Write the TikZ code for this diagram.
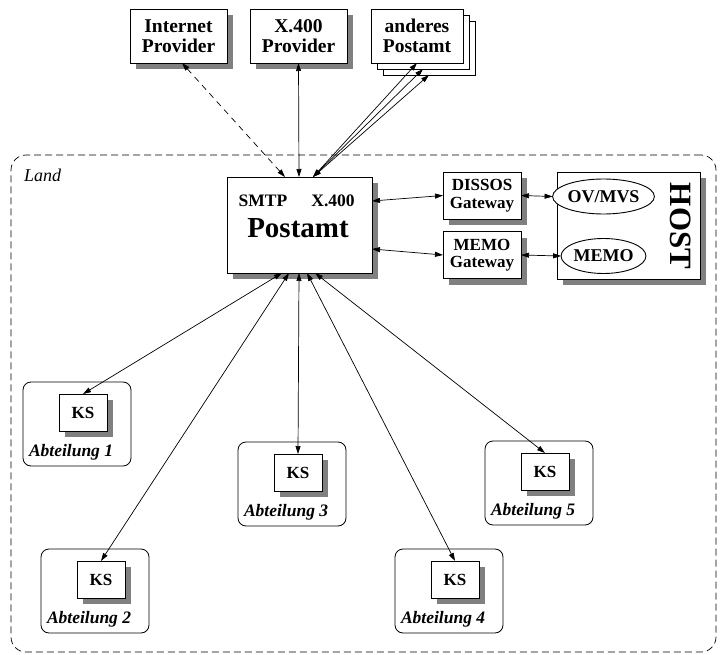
\documentclass[tikz,border=0pt]{standalone}
\usepackage{fontspec}
\setmainfont{Liberation Serif}
\usetikzlibrary{arrows.meta,shadows,shapes.geometric,calc}

\tikzset{
  every node/.style={inner sep=0pt, outer sep=0pt},
  shadowed/.style={drop shadow={shadow xshift=6pt, shadow yshift=-6pt, fill=black!50, opacity=1}},
  topbox/.style={draw, fill=white, line width=0.9pt, align=center,
    minimum width=97pt, minimum height=54pt,
    font=\fontsize{19.5}{19.5}\selectfont\bfseries},
  stackbox/.style={draw, fill=white, line width=0.9pt, align=center,
    minimum width=92pt, minimum height=54pt,
    font=\fontsize{19.5}{19.5}\selectfont\bfseries},
  gwbox/.style={draw, fill=white, line width=0.9pt, align=center, shadowed,
    minimum width=78pt, minimum height=47pt,
    font=\fontsize{17}{17.5}\selectfont\bfseries},
  app/.style={ellipse, draw, fill=white, line width=0.9pt,
    minimum width=83pt, minimum height=35pt,
    font=\fontsize{18}{18}\selectfont\bfseries},
  deptbox/.style={draw, rounded corners=8pt, line width=0.8pt,
    minimum width=108pt, minimum height=84pt},
  ksbox/.style={draw, fill=white, line width=0.9pt, shadowed,
    minimum width=48pt, minimum height=37pt,
    font=\fontsize{17}{17}\selectfont\bfseries},
  deptlabel/.style={anchor=west, font=\fontsize{17.5}{17.5}\selectfont\bfseries\itshape},
  link/.style={line width=0.7pt,
    {Triangle[length=8pt,width=5pt]}-{Triangle[length=8pt,width=5pt]}},
  proto/.style={anchor=base, font=\fontsize{17.5}{17.5}\selectfont\bfseries}
}

\begin{document}
\begin{tikzpicture}[x=1pt,y=-1pt]
\useasboundingbox (0,0) rectangle (720,655);

% region of the Land network
\node[draw, dashed, dash pattern=on 7pt off 4pt, line width=0.7pt, rounded corners=15pt,
      minimum width=705pt, minimum height=497pt] (land) at (363.5,403.5) {};
\node[anchor=west, font=\fontsize{18}{18}\selectfont\itshape] (landname) at (24,175) {Land};

% external partners
\node[topbox, shadowed] (inet) at (178.5,36) {Internet\\Provider};
\node[topbox, shadowed] (xprov) at (298.5,36) {X.400\\Provider};
\node[stackbox] (poback) at (429,48) {};
\node[stackbox] (pomid) at (423,42) {};
\node[stackbox] (pofront) at (417,36) {anderes\\Postamt};

% central post office
\node[draw, fill=white, line width=0.9pt, shadowed,
      minimum width=145pt, minimum height=96pt] (post) at (299.5,225) {};
\node[proto] (smtp) at (263,207) {SMTP};
\node[proto] (xfh) at (333,207) {X.400};
\node[anchor=base, font=\fontsize{29}{29}\selectfont\bfseries] (postname) at (298,237) {Postamt};

% gateways and host
\node[gwbox] (dgw) at (482,195.5) {DISSOS\\Gateway};
\node[gwbox] (mgw) at (482,255) {MEMO\\Gateway};
\node[draw, fill=white, line width=0.9pt, shadowed,
      minimum width=143pt, minimum height=107pt] (host) at (628.5,225.5) {};
\node[rotate=-90, font=\fontsize{31}{31}\selectfont\bfseries] (hostname) at (681,226) {HOST};
\node[app] (ovmvs) at (603.5,196.5) {OV/MVS};
\node[app] (memo) at (603.5,256) {MEMO};

% departments with their KS
\foreach \i/\bx/\by in {1/77/424, 2/95/591, 3/292/484, 4/449/591, 5/539/483}{
  \node[deptbox] (abt\i) at (\bx,\by) {};
  \node[ksbox] (ks\i) at ($(abt\i)+(6,-11.5)$) {KS};
  \node[deptlabel] (lab\i) at ([xshift=6pt,yshift=-28pt]abt\i.west) {Abteilung \i};
}

% connections
\draw[link, dash pattern=on 6pt off 5pt] ([xshift=3.5pt]inet.south) -- ([xshift=-14.5pt]post.north);
\draw[link] (xprov.south) -- ([xshift=-0.5pt]post.north);
\draw[link] (pofront.south) -- ([xshift=13.5pt]post.north);
\draw[link] (pomid.south) -- ([xshift=13.5pt]post.north);
\draw[link] (poback.south) -- ([xshift=13.5pt]post.north);

\draw[link] ([yshift=24pt]post.east) -- (dgw.west);
\draw[link] ([yshift=-24pt]post.east) -- (mgw.west);
\draw[link] (dgw.east) -- (ovmvs.west);
\draw[link] (mgw.east) -- (memo.west);

\draw[link] ([xshift=-17.5pt]post.south) -- (ks1.north);
\draw[link] ([xshift=-10.5pt]post.south) -- (ks2.north);
\draw[link] ([xshift=-0.5pt]post.south) -- (ks3.north);
\draw[link] ([xshift=7.5pt]post.south) -- (ks4.north);
\draw[link] ([xshift=15.5pt]post.south) -- (ks5.north);
\end{tikzpicture}
\end{document}
